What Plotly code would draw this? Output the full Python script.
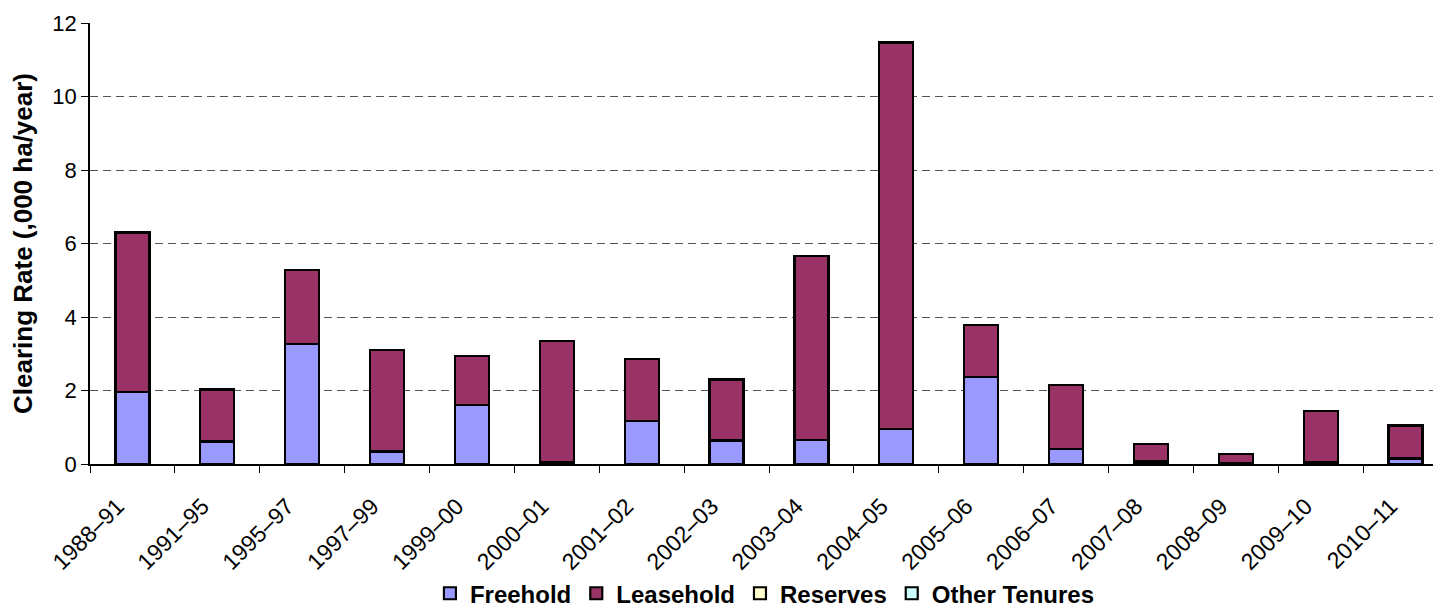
import plotly.graph_objects as go

categories = ["1988–91", "1991–95", "1995–97", "1997–99", "1999–00", "2000–01",
              "2001–02", "2002–03", "2003–04", "2004–05", "2005–06", "2006–07",
              "2007–08", "2008–09", "2009–10", "2010–11"]
freehold = [1.95, 0.61, 3.26, 0.34, 1.61, 0.04, 1.18, 0.64, 0.65, 0.95, 2.37, 0.40,
            0.07, 0.03, 0.05, 0.15]
leasehold = [4.33, 1.42, 2.01, 2.77, 1.32, 3.30, 1.67, 1.66, 5.02, 10.52, 1.42, 1.75,
             0.47, 0.24, 1.40, 0.90]
reserves = [0.02, 0, 0, 0, 0, 0, 0, 0, 0, 0, 0, 0, 0, 0, 0, 0]
other_tenures = [0, 0, 0, 0, 0, 0, 0, 0, 0, 0, 0, 0, 0, 0, 0, 0]

series = [
    ("Freehold", freehold, "#9999FF"),
    ("Leasehold", leasehold, "#993366"),
    ("Reserves", reserves, "#FFFFCC"),
    ("Other Tenures", other_tenures, "#CCFFFF"),
]

fig = go.Figure()
for name, vals, color in series:
    fig.add_trace(go.Bar(
        x=categories, y=vals, name=name,
        marker=dict(color=color, line=dict(color="black", width=2.2)),
        width=0.4,
    ))

font_family = "Liberation Sans, Arial, sans-serif"
fig.update_layout(
    barmode="stack",
    width=1441, height=625,
    margin=dict(l=82, r=1, t=15, b=169),
    plot_bgcolor="white", paper_bgcolor="white",
    font=dict(family=font_family, color="black", size=20),
    showlegend=True,
    legend=dict(
        orientation="h", x=0.497, xanchor="center", y=-0.243, yanchor="top",
        traceorder="normal",
        font=dict(family=font_family, size=24, color="black", weight="bold"),
        itemwidth=30, tracegroupgap=0, itemclick=False,
    ),
    xaxis=dict(
        type="category", range=[-0.5, 15.5], automargin=False,
        showline=True, linecolor="black", linewidth=1.5,
        ticks="outside", tickson="boundaries", ticklen=7, tickcolor="black",
        tickangle=-45, tickfont=dict(size=23),
        ticklabelstandoff=18, ticklabelshift=-15,
        showgrid=False, zeroline=False,
    ),
    yaxis=dict(
        range=[0, 12], dtick=2, automargin=False,
        showline=True, linecolor="black", linewidth=1.5,
        ticks="outside", ticklen=7, tickcolor="black",
        tickfont=dict(size=22),
        showgrid=True, gridcolor="#555555", griddash="8px,5px", gridwidth=1.2,
        zeroline=False,
        title=dict(text="<b>Clearing Rate (,000 ha/year)</b>", font=dict(size=26), standoff=14),
    ),
)

fig.write_html("out.html")
